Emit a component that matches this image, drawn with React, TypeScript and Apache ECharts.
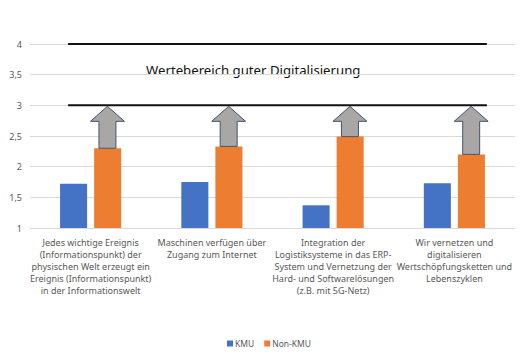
import React, { useEffect, useRef } from "react";
import * as echarts from "echarts";

const categories = [
  "Jedes wichtige Ereignis\n(Informationspunkt) der\nphysischen Welt erzeugt ein\nEreignis (Informationspunkt)\nin der Informationswelt",
  "Maschinen verfügen über\nZugang zum Internet",
  "Integration der\nLogistiksysteme in das ERP-\nSystem und Vernetzung der\nHard- und Softwarelösungen\n(z.B. mit 5G-Netz)",
  "Wir vernetzen und\ndigitalisieren\nWertschöpfungsketten und\nLebenszyklen",
];
const kmu = [1.72, 1.75, 1.37, 1.73];
const nonKmu = [2.3, 2.33, 2.49, 2.2];
const targetLow = 3;
const targetHigh = 4;
const rangeLabel = "Wertebereich guter Digitalisierung";
const yTicks = [1, 1.5, 2, 2.5, 3, 3.5, 4];

export default function App() {
  const ref = useRef<HTMLDivElement>(null);
  useEffect(() => {
    if (!ref.current) return;
    const chart = echarts.init(ref.current, undefined, { renderer: "svg" });
    const font = "Noto Sans";
    chart.setOption({
      animation: false,
      textStyle: { fontFamily: font },
      grid: { left: 30, right: 5, top: 44, bottom: 132 },
      legend: {
        bottom: 7,
        left: 222,
        itemWidth: 6,
        itemHeight: 6,
        itemGap: 10,
        icon: "rect",
        textStyle: { fontSize: 8.5, color: "#595959", fontFamily: font, padding: [0, 0, 0, -3] },
        data: ["KMU", "Non-KMU"],
      },
      xAxis: {
        type: "category",
        data: categories,
        axisLine: { show: false },
        axisTick: { show: false },
        axisLabel: {
          interval: 0,
          fontSize: 9,
          lineHeight: 12,
          color: "#595959",
          margin: 8,
          fontFamily: font,
        },
      },
      yAxis: {
        type: "value",
        min: yTicks[0],
        max: yTicks[yTicks.length - 1],
        interval: 0.5,
        axisLine: { show: false },
        axisTick: { show: false },
        splitLine: { lineStyle: { color: "#D9D9D9", width: 1 } },
        axisLabel: {
          fontSize: 9,
          color: "#595959",
          margin: 8,
          formatter: (v: number) => String(v).replace(".", ","),
        },
      },
      series: [
        {
          name: "KMU",
          type: "bar",
          data: kmu,
          barWidth: "22.3%",
          barGap: "26%",
          itemStyle: { color: "#4472C4" },
        },
        {
          name: "Non-KMU",
          type: "bar",
          data: nonKmu,
          barWidth: "22.3%",
          barGap: "26%",
          itemStyle: { color: "#ED7D31" },
        },
        {
          name: "arrows",
          type: "custom",
          data: nonKmu.map((v, i) => [i, v]),
          z: 5,
          renderItem: (params: any, api: any) => {
            const i = api.value(0);
            const v = api.value(1);
            const bw = api.size([1, 0])[0];
            const base = api.coord([i, v]);
            const tip = api.coord([i, targetLow]);
            const cx = base[0] + bw * 0.1386;
            const sh = bw * 0.07;
            const hh = bw * 0.14;
            const headH = 15;
            const yb = base[1];
            const yt = tip[1] + 1;
            const yh = yt + headH;
            return {
              type: "polygon",
              shape: {
                points: [
                  [cx - sh, yb],
                  [cx - sh, yh],
                  [cx - hh, yh],
                  [cx, yt],
                  [cx + hh, yh],
                  [cx + sh, yh],
                  [cx + sh, yb],
                ],
              },
              style: { fill: "#A9A6A6", stroke: "#44546A", lineWidth: 1 },
            };
          },
        },
        {
          name: "range",
          type: "custom",
          data: [[0, targetLow], [0, targetHigh]],
          z: 6,
          renderItem: (params: any, api: any) => {
            const v = api.value(1);
            const bw = api.size([1, 0])[0];
            const a = api.coord([0, v]);
            const b = api.coord([categories.length - 1, v]);
            return {
              type: "line",
              shape: { x1: a[0] - bw * 0.186, y1: a[1], x2: b[0] + bw * 0.268, y2: b[1] },
              style: { stroke: "#111111", lineWidth: 2 },
            };
          },
        },
      ],
      graphic: [
        {
          type: "text",
          left: 146,
          top: 63,
          style: { text: rangeLabel, font: `13.2px "${font}"`, fill: "#111111" },
        },
      ],
    });
    return () => chart.dispose();
  }, []);
  return <div ref={ref} style={{ width: 520, height: 360, position: "absolute", left: 0, top: 0 }} />;
}
